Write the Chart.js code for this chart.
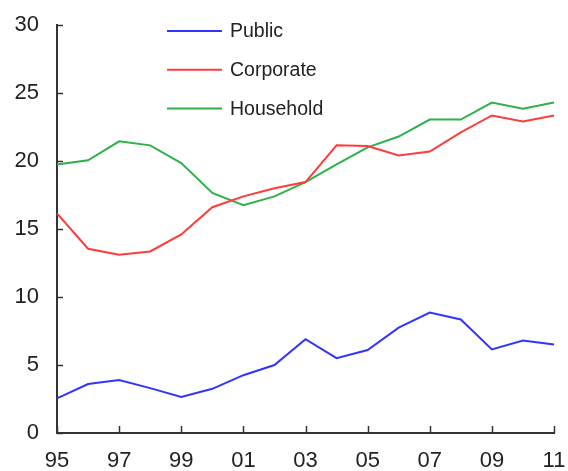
<!DOCTYPE html>
<html>
<head>
<meta charset="utf-8">
<script src="https://cdn.jsdelivr.net/npm/chart.js@4"></script>
<style>
  html, body { margin: 0; padding: 0; background: #fff; }
  #wrap { width: 568px; height: 471px; }
</style>
</head>
<body>
<div id="wrap"><canvas id="debtChart"></canvas></div>
<script>
const years = ['95', '96', '97', '98', '99', '00', '01', '02', '03', '04', '05', '06', '07', '08', '09', '10', '11'];
const publicDebt = [2.55, 3.6, 3.9, 3.3, 2.65, 3.25, 4.25, 5.0, 6.9, 5.5, 6.1, 7.75, 8.85, 8.35, 6.15, 6.8, 6.5];
const corporateDebt = [16.15, 13.55, 13.1, 13.35, 14.6, 16.6, 17.4, 18.0, 18.45, 21.15, 21.1, 20.4, 20.7, 22.1, 23.35, 22.9, 23.35];
const householdDebt = [19.75, 20.05, 21.45, 21.15, 19.85, 17.65, 16.75, 17.4, 18.45, 19.75, 21.0, 21.8, 23.05, 23.05, 24.3, 23.85, 24.3];
const yTicks = [0, 5, 10, 15, 20, 25, 30];

const axisColor = '#333333';
const textColor = '#222222';
const fontFamily = 'Arial, "Liberation Sans", sans-serif';

// ticks point inward, so draw them ourselves
const innerTicks = {
    id: 'innerTicks',
    afterDraw(chart) {
        const ctx = chart.ctx;
        const x = chart.scales.x;
        const y = chart.scales.y;
        const area = chart.chartArea;
        ctx.save();
        ctx.strokeStyle = axisColor;
        ctx.lineWidth = 1.5;
        ctx.beginPath();
        yTicks.forEach(v => {
            const py = Math.round(y.getPixelForValue(v)) + 0.5;
            ctx.moveTo(area.left, py);
            ctx.lineTo(area.left + 6, py);
        });
        years.forEach((lbl, i) => {
            if (i % 2 !== 0) return;
            const px = Math.round(x.getPixelForValue(i)) + 0.5;
            ctx.moveTo(px, area.bottom);
            ctx.lineTo(px, area.bottom - 7);
        });
        ctx.stroke();
        ctx.restore();
    }
};

// vertical legend inside the plot
const boxLegend = {
    id: 'boxLegend',
    afterDraw(chart) {
        const ctx = chart.ctx;
        ctx.save();
        ctx.font = '19.5px ' + fontFamily;
        ctx.textBaseline = 'middle';
        chart.data.datasets.forEach((ds, i) => {
            const ly = 31 + i * 38.7;
            ctx.strokeStyle = ds.borderColor;
            ctx.lineWidth = 2;
            ctx.beginPath();
            ctx.moveTo(167, ly);
            ctx.lineTo(222, ly);
            ctx.stroke();
            ctx.fillStyle = textColor;
            ctx.fillText(ds.label, 230, ly + 1);
        });
        ctx.restore();
    }
};

new Chart(document.getElementById('debtChart'), {
    type: 'line',
    data: {
        labels: years,
        datasets: [{
            label: 'Public',
            data: publicDebt,
            borderColor: '#3333ff',
            borderWidth: 2,
            pointRadius: 0,
            tension: 0
        }, {
            label: 'Corporate',
            data: corporateDebt,
            borderColor: '#ff3b3b',
            borderWidth: 2,
            pointRadius: 0,
            tension: 0
        }, {
            label: 'Household',
            data: householdDebt,
            borderColor: '#2fb04a',
            borderWidth: 2,
            pointRadius: 0,
            tension: 0
        }]
    },
    options: {
        responsive: true,
        maintainAspectRatio: false,
        animation: false,
        layout: { padding: { top: 25, right: 14, left: 0, bottom: 0 } },
        plugins: {
            legend: { display: false },
            tooltip: { enabled: false }
        },
        scales: {
            x: {
                type: 'category',
                offset: false,
                grid: { display: false, drawTicks: false },
                border: { display: true, color: axisColor, width: 2 },
                ticks: {
                    autoSkip: false,
                    maxRotation: 0,
                    padding: 15,
                    color: textColor,
                    font: { family: fontFamily, size: 22 },
                    callback: function (val, idx) { return idx % 2 === 0 ? years[idx] : ''; }
                },
                afterFit(scale) {
                    scale.height = 38;
                    scale.paddingLeft = 0;
                    scale.paddingRight = 0;
                }
            },
            y: {
                min: 0,
                max: 30,
                grid: { display: false, drawTicks: false },
                border: { display: true, color: axisColor, width: 2 },
                ticks: {
                    stepSize: 5,
                    padding: 18,
                    color: textColor,
                    font: { family: fontFamily, size: 22 }
                },
                afterFit(scale) {
                    scale.width = 57;
                    scale.paddingTop = 0;
                    scale.paddingBottom = 0;
                }
            }
        }
    },
    plugins: [innerTicks, boxLegend]
});
</script>
</body>
</html>
